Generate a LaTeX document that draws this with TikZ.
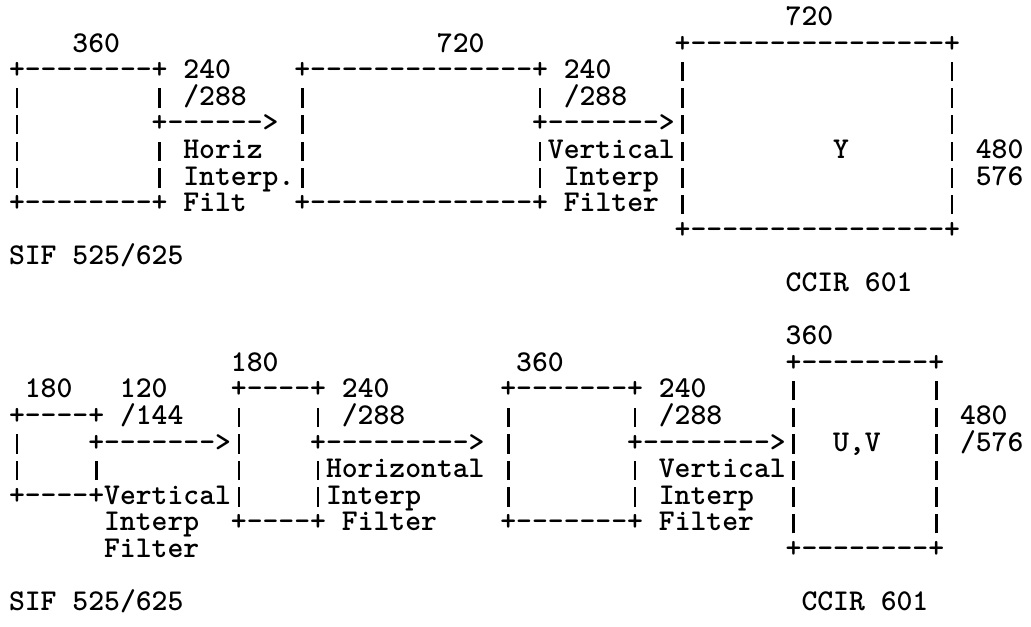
\documentclass[tikz,border=0pt]{standalone}
\newcommand\dashrun[1]{\foreach\k in {1,...,#1}{-}}
\newcommand\vbar{\makebox[0.525em][c]{\rule[-2.5pt]{2.6pt}{19.5pt}}}
\tikzset{
  ascii/.style={anchor=base west,inner sep=0pt,outer sep=0pt,
    text height=17pt,text depth=4pt,
    font=\fontsize{30.2}{32}\selectfont\ttfamily\bfseries},
}
\begin{document}
\begin{tikzpicture}[x=15.85pt,y=-26.6pt]
\fill[white] (0,0) rectangle (65.05,23.57);
\useasboundingbox (0,0) rectangle (65.05,23.57);
% luminance: SIF -> CCIR 601
\foreach \r/\c/\txt in {0/49/{720}, 1/4/{360}, 1/27/{720}, 1/42/{+\dashrun{16}+},
    2/0/{+\dashrun{8}+ 240}, 2/18/{+\dashrun{14}+ 240}, 2/42/{\vbar}, 2/59/{\vbar},
    3/0/{\vbar}, 3/9/{\vbar{} /288}, 3/18/{\vbar}, 3/33/{\vbar{} /288},
    3/42/{\vbar}, 3/59/{\vbar},
    4/0/{\vbar}, 4/9/{+\dashrun{6}>}, 4/18/{\vbar}, 4/33/{+\dashrun{7}>\vbar},
    4/59/{\vbar},
    5/0/{\vbar}, 5/9/{\vbar{} Horiz}, 5/18/{\vbar}, 5/33/{\vbar{}Vertical\vbar},
    5/52/{Y}, 5/59/{\vbar{} 480},
    6/0/{\vbar}, 6/9/{\vbar{} Interp.\vbar}, 6/33/{\vbar{} Interp \vbar},
    6/59/{\vbar{} 576},
    7/0/{+\dashrun{8}+ Filt}, 7/18/{+\dashrun{14}+ Filter}, 7/42/{\vbar},
    7/59/{\vbar},
    8/42/{+\dashrun{16}+},
    9/0/{SIF 525/625}, 10/49/{CCIR 601}}
  \node[ascii] (y\r-\c) at (\c+0.57,\r+0.96) {\txt};
% chrominance: SIF -> CCIR 601
\foreach \r/\c/\txt in {12/49/{360},
    13/14/{180}, 13/32/{360}, 13/49/{+\dashrun{8}+},
    14/1/{180}, 14/7/{120}, 14/14/{+\dashrun{4}+ 240}, 14/31/{+\dashrun{7}+ 240},
    14/49/{\vbar}, 14/58/{\vbar},
    15/0/{+\dashrun{4}+ /144}, 15/14/{\vbar}, 15/19/{\vbar{} /288}, 15/31/{\vbar},
    15/39/{\vbar{} /288}, 15/49/{\vbar}, 15/58/{\vbar{} 480},
    16/0/{\vbar}, 16/5/{+\dashrun{7}>\vbar}, 16/19/{+\dashrun{9}>}, 16/31/{\vbar},
    16/39/{+\dashrun{8}>\vbar}, 16/52/{U,V}, 16/58/{\vbar{} /576},
    17/0/{\vbar}, 17/5/{\vbar}, 17/14/{\vbar}, 17/19/{\vbar{}Horizontal \vbar},
    17/39/{\vbar{} Vertical\vbar}, 17/58/{\vbar},
    18/0/{+\dashrun{4}+Vertical\vbar}, 18/19/{\vbar{}Interp}, 18/31/{\vbar},
    18/39/{\vbar{} Interp}, 18/49/{\vbar}, 18/58/{\vbar},
    19/6/{Interp}, 19/14/{+\dashrun{4}+ Filter}, 19/31/{+\dashrun{7}+ Filter},
    19/49/{\vbar}, 19/58/{\vbar},
    20/6/{Filter}, 20/49/{+\dashrun{8}+},
    22/0/{SIF 525/625}, 22/50/{CCIR 601}}
  \node[ascii] (c\r-\c) at (\c+0.57,\r+0.96) {\txt};
\end{tikzpicture}
\end{document}
